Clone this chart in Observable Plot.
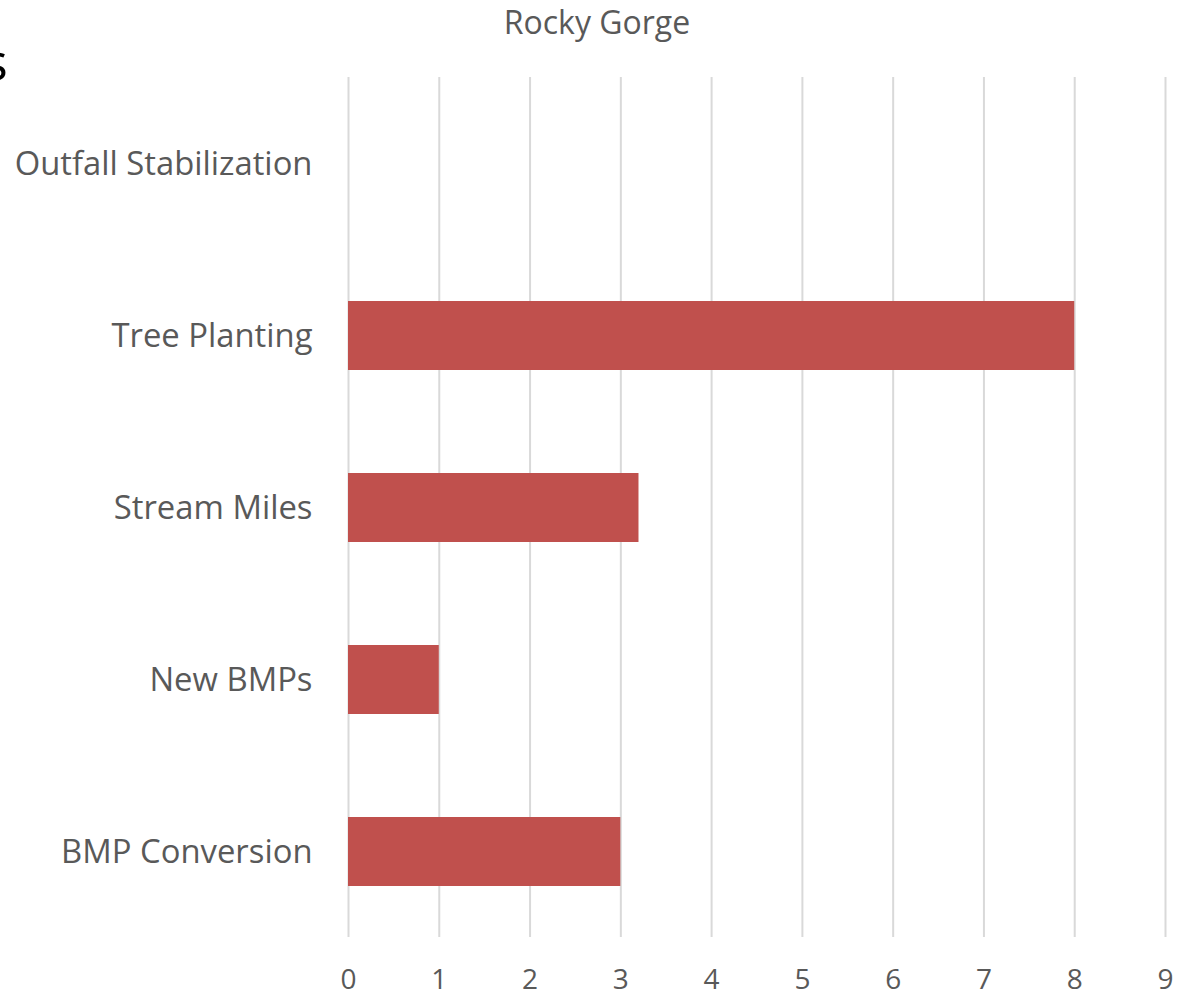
<!DOCTYPE html>
<html>
<head>
<meta charset="utf-8">
<script src="https://cdn.jsdelivr.net/npm/d3@7"></script>
<script src="https://cdn.jsdelivr.net/npm/@observablehq/plot@0.6"></script>
<style>
  html, body { margin: 0; padding: 0; background: #fff; }
  body { width: 1186px; height: 995px; position: relative; overflow: hidden; font-family: "Open Sans", sans-serif; }
  #title { height: 40px; line-height: 44px; text-align: center; font-size: 32px; color: #595959; padding-left: 8px; }
  #cut { position: absolute; left: -17px; top: 34px; font-size: 52px; line-height: 52px; color: #000; font-family: "Open Sans", sans-serif; }
  #chart svg { display: block; }
</style>
</head>
<body>
<div id="cut">s</div>
<div id="title">Rocky Gorge</div>
<div id="chart"></div>
<script>
const categories = ["Outfall Stabilization", "Tree Planting", "Stream Miles", "New BMPs", "BMP Conversion"];
const values = [0, 8, 3.2, 1, 3];
const xTicks = [0, 1, 2, 3, 4, 5, 6, 7, 8, 9];

const data = categories.map((c, i) => ({category: c, value: values[i]}));

const chart = Plot.plot({
  width: 1186,
  height: 955,
  marginLeft: 348,
  marginRight: 21,
  marginTop: 37,
  marginBottom: 58,
  style: {fontFamily: "Open Sans, sans-serif", fontSize: "28px", color: "#595959", background: "#fff", overflow: "visible"},
  x: {domain: [0, 9], ticks: xTicks, label: null},
  y: {domain: categories, paddingInner: 0.6, paddingOuter: 0.3, label: null},
  marks: [
    Plot.gridX(xTicks, {stroke: "#d9d9d9", strokeOpacity: 1, strokeWidth: 2}),
    Plot.barX(data, {x: "value", y: "category", fill: "#C0504D"}),
    Plot.axisX(xTicks, {tickSize: 0, tickPadding: 32, fontSize: 28, fill: "#595959", label: null, tickFormat: d => String(d)}),
    Plot.axisY({tickSize: 0, tickPadding: 36, fontSize: 32.8, fill: "#595959", label: null})
  ]
});
document.getElementById("chart").appendChild(chart);
</script>
</body>
</html>
